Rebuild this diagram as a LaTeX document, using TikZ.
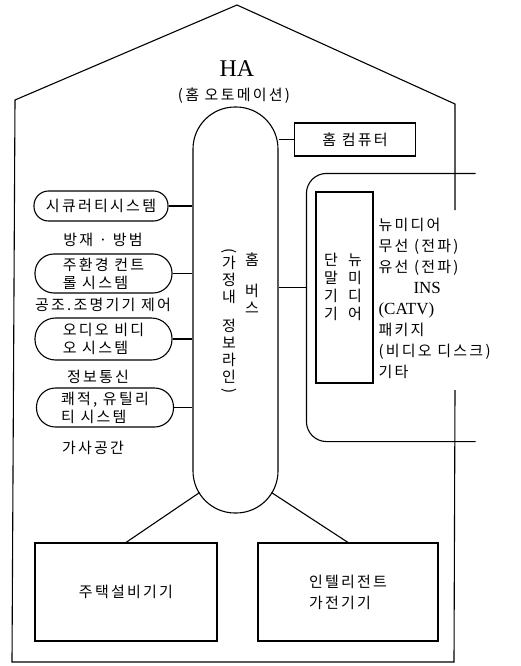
\documentclass[tikz,border=0pt]{standalone}
\usepackage{fontspec}
\usepackage{graphicx}
\setmainfont{Liberation Serif}
\newfontfamily\kr[LetterSpace=15]{Noto Sans CJK KR}
\usetikzlibrary{calc}
\begin{document}
\begin{tikzpicture}[x=1pt,y=-1pt,line width=1.1pt,
  ko/.style={font=\kr\fontsize{15}{18}\selectfont},
  capsule/.style={draw,ko,align=left,minimum width=137pt,inner sep=2pt},
  plainbox/.style={draw,inner sep=2pt}]
\useasboundingbox (0,0) rectangle (521,666);
% house outline
\coordinate (hbl) at (12,662);
\coordinate (htl) at (15,100);
\coordinate (hap) at (237,5);
\coordinate (htr) at (455,104);
\coordinate (hgt) at (455,210);
\coordinate (hgb) at (455,390);
\coordinate (hbr) at (454,662);
\draw (hgt) -- (htr) -- (hap) -- (htl) -- (hbl) -- (hbr) -- (hgb);
% titles
\node[font=\fontsize{24}{26}\selectfont] (ha) at (237,69) {HA};
\node[ko] (hasub) at (234,96) {(홈 오토메이션)};
% bus
\node[draw,minimum width=85pt,minimum height=406pt,rounded corners=42pt] (bus) at (235.5,310) {};
\node[font=\kr\fontsize{15}{17}\selectfont,align=center] (bust1) at (252,283) {홈\\[14pt]버\\스};
\node[font=\kr\fontsize{15}{17}\selectfont,align=center] (bust2) at (229,322)
  {\rotatebox[origin=c]{-90}{(}\\[-4pt]가\\정\\내\\[12pt]정\\보\\라\\인\\[-4pt]\rotatebox[origin=c]{-90}{)}};
% left capsules
\node[capsule,minimum width=134pt,minimum height=30pt,rounded corners=14.5pt] (c1) at (101,206) {시큐러티시스템};
\node[capsule,minimum height=39pt,rounded corners=19pt] (c2) at (103.5,273.5) {주환경 컨트\\롤 시스템};
\node[capsule,minimum height=42pt,rounded corners=20.5pt] (c3) at (103.5,339) {오디오 비디\\오 시스템};
\node[capsule,minimum height=39pt,rounded corners=19pt] (c4) at (105,407.5) {쾌적, 유틸리\\티 시스템};
\foreach \c in {c1,c2,c3,c4} \draw (\c.east) -- (\c.east -| bus.west);
\node[ko] (l1) at (103,240) {방재 · 방범};
\node[ko] (l2) at (103,305) {공조.조명기기 제어};
\node[ko] (l3) at (98,377) {정보통신};
\node[ko] (l4) at (93,448) {가사공간};
% home computer
\node[plainbox,ko,minimum width=121pt,minimum height=33pt] (hc) at (355,139.5) {홈 컴퓨터};
\draw (bus.east |- hc.west) -- (hc.west);
% new media
\node[minimum width=168pt,minimum height=267pt,inner sep=0pt] (nm) at (391,307.5) {};
\draw[rounded corners=20pt] (nm.north east) -- (nm.north west) -- (nm.south west) -- (nm.south east);
\node[plainbox,minimum width=57pt,minimum height=191pt] (term) at (344.5,287.5) {};
\node[font=\kr\fontsize{15}{18}\selectfont,align=center] (tc1) at (331,287) {단\\말\\기\\기};
\node[font=\kr\fontsize{15}{18}\selectfont,align=center] (tc2) at (355,287) {뉴\\미\\디\\어};
\draw (bus.east |- term.west) -- (term.west -| nm.west);
\node[anchor=west,align=left,inner sep=0pt,font=\fontsize{15}{21}\selectfont] (media) at (378,298.5)
 {{\kr 뉴미디어}\\{\kr 무선 (전파)}\\{\kr 유선 (전파)}\\\hspace*{35pt}{\fontsize{17}{21}\selectfont INS}\\{\fontsize{17}{21}\selectfont (CATV)}\\{\kr 패키지}\\{\kr (비디오 디스크)}\\{\kr 기타}};
% bottom boxes
\node[plainbox,ko,minimum width=182pt,minimum height=98pt] (lb) at (126,592) {주택설비기기};
\node[plainbox,ko,align=left,minimum width=180pt,minimum height=98pt,font=\kr\fontsize{15}{21}\selectfont] (rb) at (348,592) {인텔리전트\\가전기기};
\coordinate (bl) at ($(bus.south)+(-36,-21)$);
\coordinate (br) at ($(bus.south)+(36,-21)$);
\draw (bl) -- (lb.north);
\draw (br) -- (rb.north);
\end{tikzpicture}
\end{document}
